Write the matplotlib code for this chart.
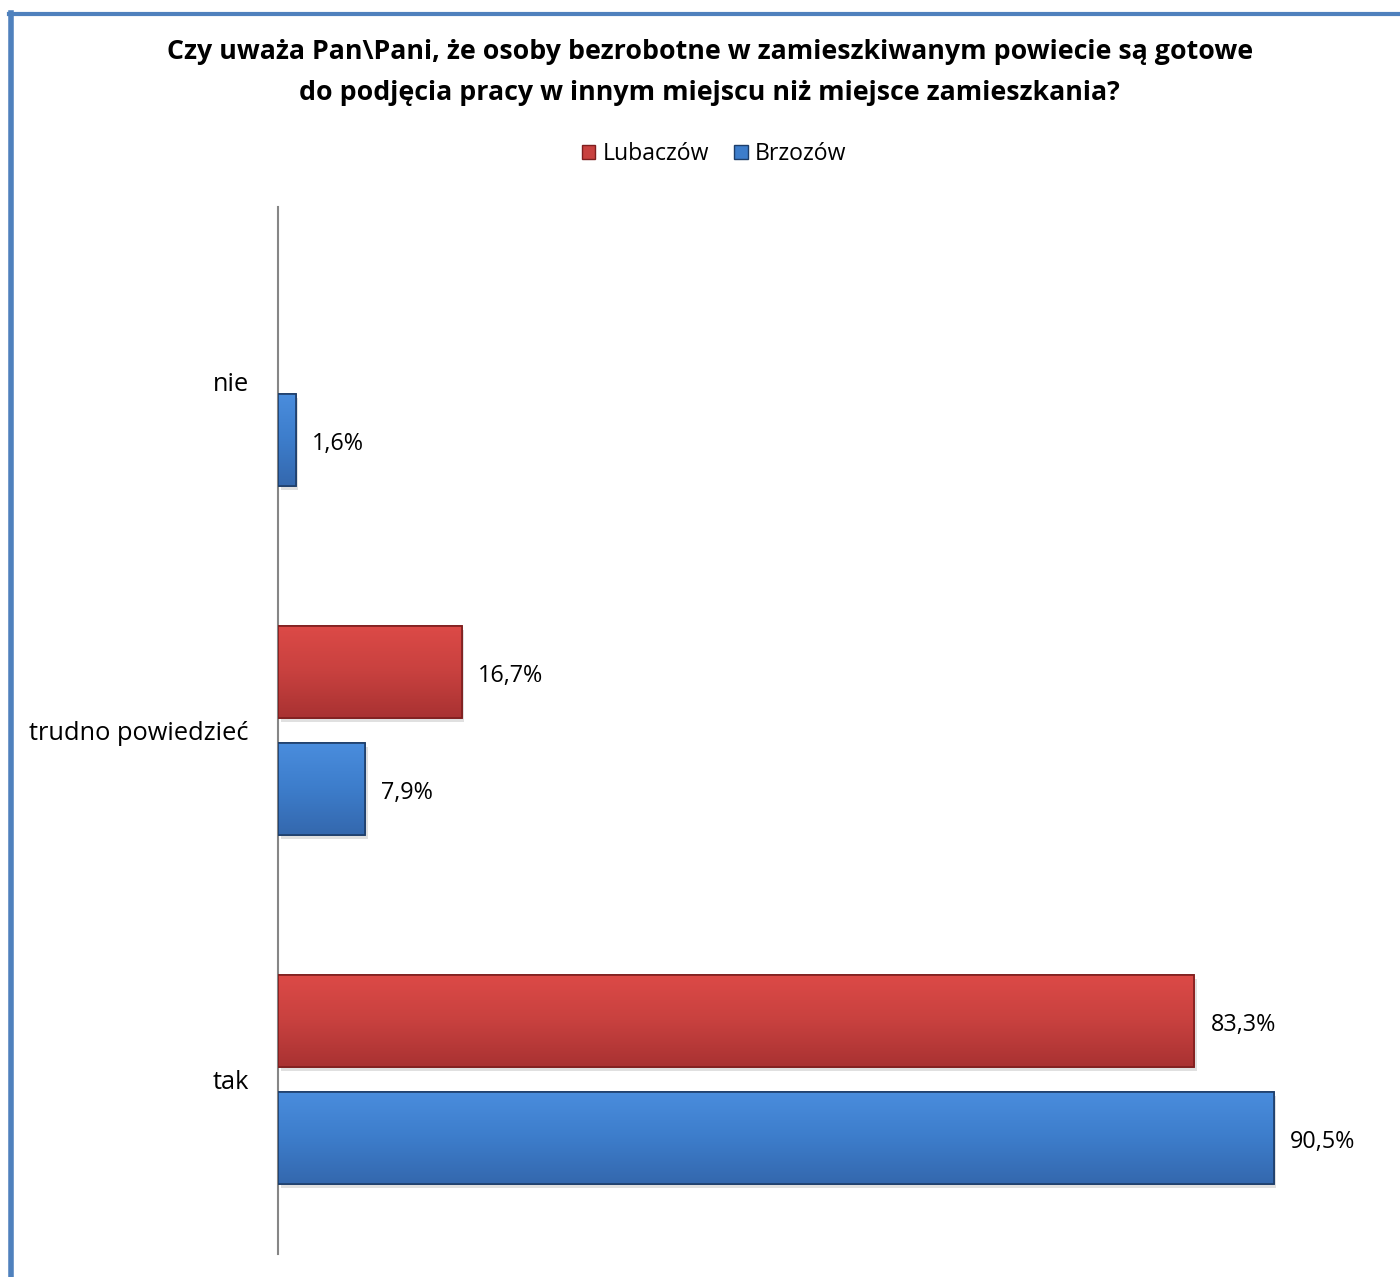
import matplotlib
matplotlib.use('Agg')
from matplotlib import pyplot as plt
from matplotlib.patches import Rectangle
from matplotlib.colors import LinearSegmentedColormap
import numpy as np

plt.rcParams['font.family'] = ['Open Sans', 'DejaVu Sans']

categories = ['tak', 'trudno powiedzieć', 'nie']
lubaczow = [83.3, 16.7, None]
brzozow = [90.5, 7.9, 1.6]
series_names = ['Lubaczów', 'Brzozów']

red = '#C8413F'
red_edge = '#7E1E1E'
blue = '#3D7DCB'
blue_edge = '#1E3E6A'

fig = plt.figure(figsize=(14, 12.77), dpi=100)
ax = fig.add_axes([278/1400, 23/1277, 1100/1400, 1047/1277])

y = np.arange(len(categories))
h = 0.264
off = 0.168

def draw(vals, ypos, col, light, dark, edge, label):
    vv = [v if v is not None else 0 for v in vals]
    bars = ax.barh(ypos, vv, height=h, color=col, edgecolor=edge, linewidth=1.2, label=label, zorder=3)
    cmap = LinearSegmentedColormap.from_list('g', [dark, col, light])
    grad = np.linspace(0, 1, 64).reshape(-1, 1)
    for b, v in zip(bars, vals):
        if v is None:
            b.set_visible(False)
            continue
        # gradient fill inside the bar
        im = ax.imshow(grad, cmap=cmap, aspect='auto', origin='lower', zorder=3.5,
                       extent=(b.get_x(), b.get_x() + b.get_width(), b.get_y(), b.get_y() + b.get_height()))
        im.set_clip_path(b)
        # shadow
        ax.add_patch(Rectangle((b.get_x() + 0.25, b.get_y() - 0.012), b.get_width(), b.get_height(),
                               color='#000000', alpha=0.12, lw=0, zorder=2))
        ax.add_patch(Rectangle((b.get_x(), b.get_y()), b.get_width(), b.get_height(),
                               fc='none', ec=edge, lw=1.2, zorder=4))
        ax.text(v + 1.5, b.get_y() + b.get_height()/2 - 0.012, f'{v:.1f}%'.replace('.', ','),
                va='center', ha='left', fontsize=16.8, color='#000000')
    return bars

draw(lubaczow, y + off, red, '#DC4A47', '#A93232', red_edge, series_names[0])
draw(brzozow, y - off, blue, '#4A8DDD', '#3468AE', blue_edge, series_names[1])

ax.set_xlim(0, 100)
ax.set_ylim(-0.5, 2.5)
ax.set_yticks(y)
ax.set_yticklabels(categories, fontsize=18.3)
ax.tick_params(axis='y', length=0, pad=21)
ax.set_xticks([])
for s in ['top', 'right', 'bottom']:
    ax.spines[s].set_visible(False)
ax.spines['left'].set_color('#868686')
ax.spines['left'].set_linewidth(1.5)

fig.text(0.507, 1 - 52/1277, 'Czy uważa Pan\\Pani, że osoby bezrobotne w zamieszkiwanym powiecie są gotowe',
         ha='center', va='center', fontsize=19.3, fontweight='bold')
fig.text(0.507, 1 - 93/1277, 'do podjęcia pracy w innym miejscu niż miejsce zamieszkania?',
         ha='center', va='center', fontsize=19.3, fontweight='bold')

handles = [Rectangle((0, 0), 1, 1, fc=red, ec=red_edge), Rectangle((0, 0), 1, 1, fc=blue, ec=blue_edge)]
fig.legend(handles, series_names, loc='center', bbox_to_anchor=(0.51, 1 - 154/1277), ncol=2,
           frameon=False, fontsize=16.6, handlelength=0.6, handleheight=0.6, handletextpad=0.3,
           columnspacing=1.1)

# chart border (only left and top visible in the crop)
fig.add_artist(plt.Line2D([10.5/1400, 10.5/1400], [0, 1 - 13/1277], color='#4F81BD', lw=4))
fig.add_artist(plt.Line2D([8.5/1400, 1], [1 - 13.5/1277, 1 - 13.5/1277], color='#4F81BD', lw=3))

fig.savefig('out.png', dpi=100)
